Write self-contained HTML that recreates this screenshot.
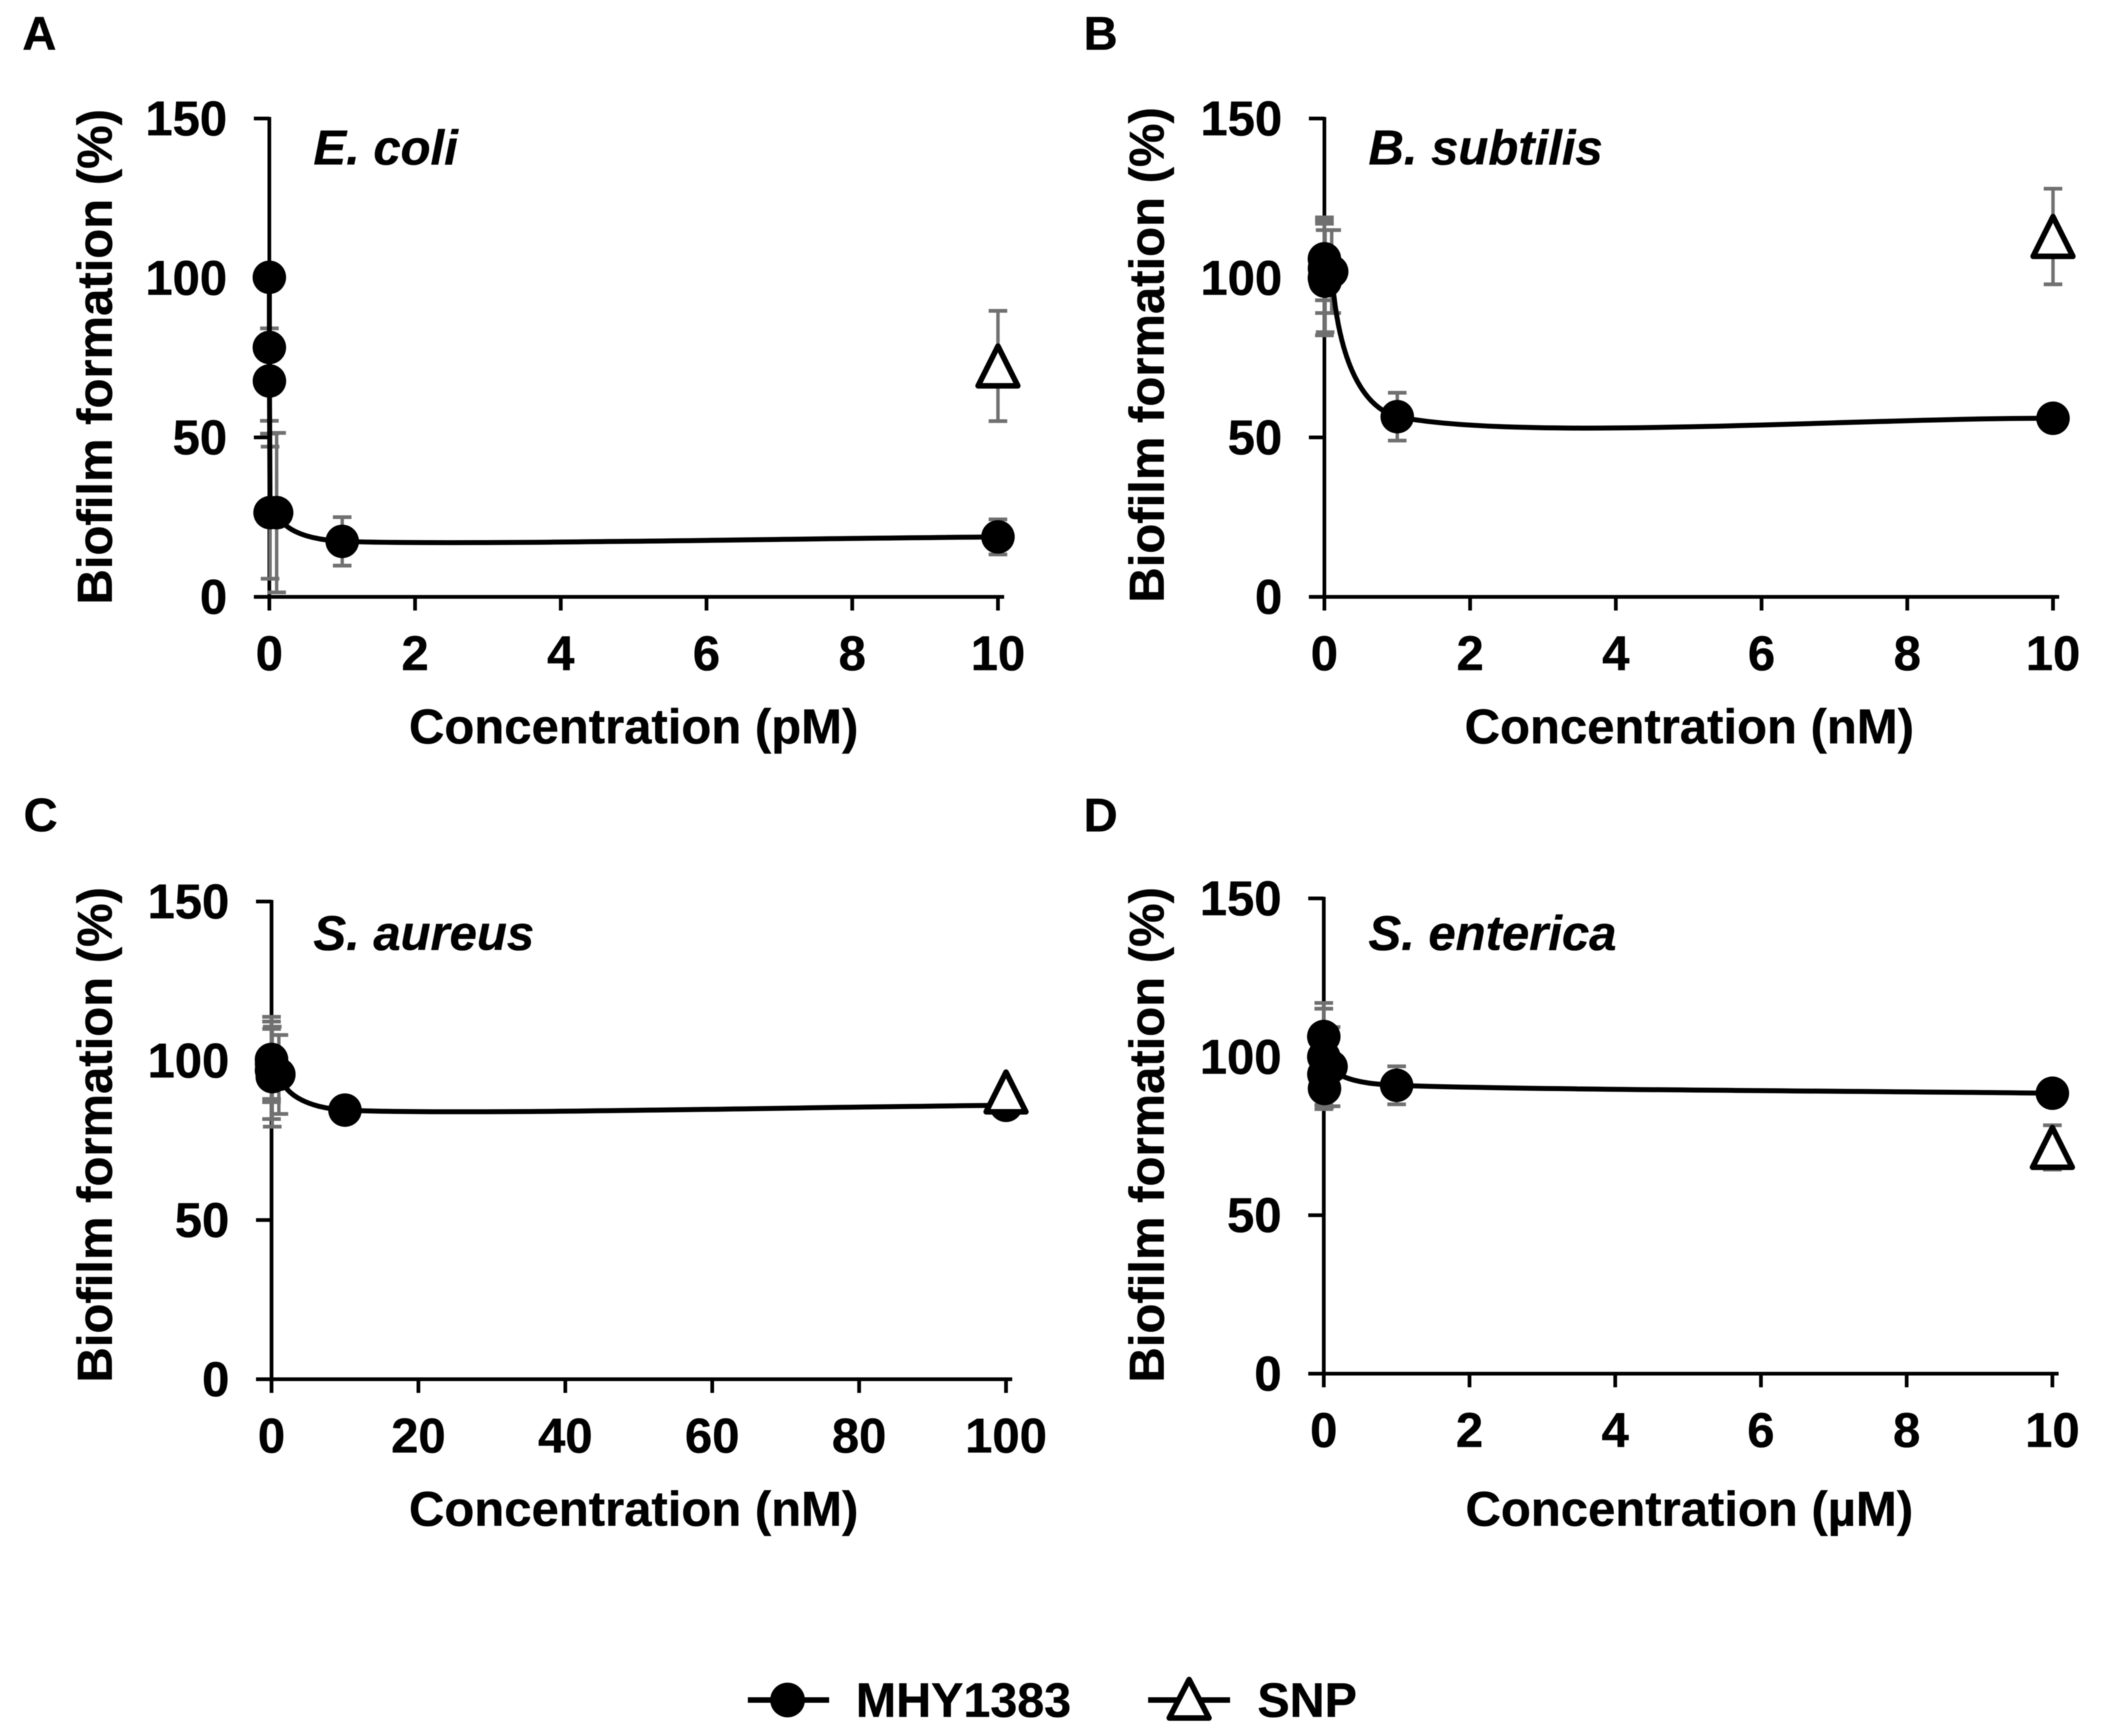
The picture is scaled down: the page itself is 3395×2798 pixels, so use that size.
<!DOCTYPE html>
<html lang="en">
<head>
<meta charset="utf-8">
<title>Biofilm formation vs concentration</title>
<style>
html,body{margin:0;padding:0;background:#fff;}
svg{display:block;filter:blur(0.8px);}
text{font-family:"Liberation Sans",Arial,sans-serif;font-weight:bold;fill:#000;stroke:#000;stroke-width:0.6px;}
</style>
</head>
<body>
<svg id="figure" xmlns="http://www.w3.org/2000/svg" width="3395" height="2798" viewBox="0 0 3395 2798">
  <rect x="0" y="0" width="3395" height="2798" fill="#fff"/>

  <text x="36" y="80" font-size="76">A</text>
  <text x="1746" y="80" font-size="76">B</text>
  <text x="38" y="1340" font-size="76">C</text>
  <text x="1746" y="1340" font-size="76">D</text>

  <text x="505" y="265" font-size="79" font-style="italic">E. coli</text>
  <text x="2205" y="265" font-size="79" font-style="italic">B. subtilis</text>
  <text x="505" y="1531" font-size="79" font-style="italic">S. aureus</text>
  <text x="2205" y="1531" font-size="79" font-style="italic">S. enterica</text>

  <text transform="translate(180 575) rotate(-90)" text-anchor="middle" font-size="79">Biofilm formation (%)</text>
  <text transform="translate(1875 572) rotate(-90)" text-anchor="middle" font-size="79">Biofilm formation (%)</text>
  <text transform="translate(180 1829) rotate(-90)" text-anchor="middle" font-size="79">Biofilm formation (%)</text>
  <text transform="translate(1875 1829) rotate(-90)" text-anchor="middle" font-size="79">Biofilm formation (%)</text>

  <text x="1021" y="1198" text-anchor="middle" font-size="79">Concentration (pM)</text>
  <text x="2722" y="1198" text-anchor="middle" font-size="79">Concentration (nM)</text>
  <text x="1021" y="2459" text-anchor="middle" font-size="79">Concentration (nM)</text>
  <text x="2722" y="2459" text-anchor="middle" font-size="79">Concentration (µM)</text>

  <g>
    <line x1="1205" y1="2740" x2="1336" y2="2740" stroke="#000" stroke-width="9"/>
    <circle cx="1269" cy="2740" r="28" fill="#000"/>
    <text x="1379" y="2767" font-size="78">MHY1383</text>
    <line x1="1850" y1="2740" x2="1982" y2="2740" stroke="#000" stroke-width="9"/>
    <path d="M1916 2707L1948 2769L1884 2769Z" fill="#fff" stroke="#000" stroke-width="9" stroke-linejoin="round"/>
    <text x="2026" y="2767" font-size="78">SNP</text>
  </g>
</svg>
<script>
// ---- Chart data ----
const yTicks = [0, 50, 100, 150];

const aXTicks = [0, 2, 4, 6, 8, 10];
const aConc = [0, 0.0001, 0.001, 0.01, 0.1, 1, 10];
const aMhy = [100.2, 78.2, 67.7, 26.4, 26.4, 17.4, 18.8];
const aMhyErr = [0, 23, 16.5, 20.7, 25, 7.6, 5.5];
const aSnpConc = [10];
const aSnp = [72.4];
const aSnpErr = [17.3];

const bXTicks = [0, 2, 4, 6, 8, 10];
const bConc = [0, 0.0001, 0.001, 0.01, 0.1, 1, 10];
const bMhy = [100, 106, 103, 99, 102, 56.5, 56];
const bMhyErr = [18, 13, 14, 16, 13, 7.5, 0];
const bSnpConc = [10];
const bSnp = [113];
const bSnpErr = [15];

const cXTicks = [0, 20, 40, 60, 80, 100];
const cConc = [0, 0.001, 0.01, 0.1, 1, 10, 100];
const cMhy = [100.4, 97, 99, 95, 95.7, 84.5, 86];
const cMhyErr = [13.4, 15.3, 11, 15.7, 12.4, 0, 0];
const cSnpConc = [100];
const cSnp = [90.2];
const cSnpErr = [0];

const dXTicks = [0, 2, 4, 6, 8, 10];
const dConc = [0, 0.0001, 0.001, 0.01, 0.1, 1, 10];
const dMhy = [106.4, 100, 94.5, 90, 96.9, 91, 88.5];
const dMhyErr = [10.6, 15.2, 11, 6, 12.5, 6, 0];
const dSnpConc = [10];
const dSnp = [71.4];
const dSnpErr = [7];

// ---- Rendering ----
const NS = 'http://www.w3.org/2000/svg';
const figure = document.getElementById('figure');

function make(parent, tag, name, attrs) {
  const el = document.createElementNS(NS, tag);
  
  
  for (const k in attrs) el.setAttribute(k, attrs[k]);
  parent.appendChild(el);
  return el;
}

function smoothPath(pts) {
  let d = 'M' + pts[0][0] + ' ' + pts[0][1];
  for (let i = 0; i < pts.length - 1; i++) {
    const p0 = pts[i - 1] || pts[i], p1 = pts[i], p2 = pts[i + 1], p3 = pts[i + 2] || p2;
    const dx = p2[0] - p1[0], dy = p2[1] - p1[1];
    let c1, c2;
    if (Math.abs(dy) > 0.2 * dx) {
      c1 = [p1[0] + 0.1 * dx, p1[1] + 0.65 * dy];
      c2 = [p2[0] - 0.5 * dx, p2[1] - 0.06 * dy];
    } else {
      c1 = [p1[0] + (p2[0] - p0[0]) * 0.17, p1[1] + (p2[1] - p0[1]) * 0.17];
      c2 = [p2[0] - (p3[0] - p1[0]) * 0.3, p2[1] - (p3[1] - p1[1]) * 0.3];
    }
    d += 'C' + c1[0] + ' ' + c1[1] + ' ' + c2[0] + ' ' + c2[1] + ' ' + p2[0] + ' ' + p2[1];
  }
  return d;
}

function errorBar(g, name, px, py, errPx) {
  if (!errPx) return;
  const grey = '#707070';
  make(g, 'line', name + '-stem', {x1: px, y1: py - errPx, x2: px, y2: py + errPx, stroke: grey, 'stroke-width': 5.5});
  make(g, 'line', name + '-cap-top', {x1: px - 15, y1: py - errPx, x2: px + 15, y2: py - errPx, stroke: grey, 'stroke-width': 6});
  make(g, 'line', name + '-cap-bottom', {x1: px - 15, y1: py + errPx, x2: px + 15, y2: py + errPx, stroke: grey, 'stroke-width': 6});
}

function renderPanel(id, frame, xTicks, conc, mhy, mhyErr, snpConc, snp, snpErr) {
  const xMax = xTicks[xTicks.length - 1];
  const yMax = yTicks[yTicks.length - 1];
  const xScale = v => frame.x0 + (v / xMax) * (frame.x1 - frame.x0);
  const yScale = v => frame.y0 - (v / yMax) * (frame.y0 - frame.yTop);
  const lenScale = v => (v / yMax) * (frame.y0 - frame.yTop);

  const g = make(figure, 'g', 'chart-panel-' + id, {});

  // axes
  make(g, 'line', 'y-axis-line-' + id, {x1: frame.x0, y1: frame.yTop - 2.5, x2: frame.x0, y2: frame.y0 + 22, stroke: '#000', 'stroke-width': 6});
  make(g, 'line', 'x-axis-line-' + id, {x1: frame.x0 - 25, y1: frame.y0, x2: frame.x1 + 10, y2: frame.y0, stroke: '#000', 'stroke-width': 6});

  yTicks.forEach(t => {
    const y = yScale(t);
    make(g, 'line', 'y-tick-' + id + '-' + t, {x1: frame.x0 - 25, y1: y, x2: frame.x0, y2: y, stroke: '#000', 'stroke-width': 6});
    const lab = make(g, 'text', 'y-tick-label-' + id + '-' + t, {x: frame.x0 - 68, y: y + 27, 'text-anchor': 'end', 'font-size': 79});
    lab.textContent = t;
  });
  xTicks.forEach(t => {
    const x = xScale(t);
    make(g, 'line', 'x-tick-' + id + '-' + t, {x1: x, y1: frame.y0, x2: x, y2: frame.y0 + 22, stroke: '#000', 'stroke-width': 6});
    const lab = make(g, 'text', 'x-tick-label-' + id + '-' + t, {x: x, y: frame.y0 + 118, 'text-anchor': 'middle', 'font-size': 79});
    lab.textContent = t;
  });

  // MHY1383 error bars, curve, points
  conc.forEach((c, i) => {
    errorBar(g, 'mhy1383-error-' + id + '-' + i, xScale(c), yScale(mhy[i]), lenScale(mhyErr[i]));
  });
  const pts = conc.map((c, i) => [xScale(c), yScale(mhy[i])]);
  make(g, 'path', 'mhy1383-curve-' + id, {d: smoothPath(pts), fill: 'none', stroke: '#000', 'stroke-width': 8});
  pts.forEach((p, i) => {
    make(g, 'circle', 'mhy1383-point-' + id + '-' + i, {cx: p[0], cy: p[1], r: 27, fill: '#000'});
  });

  // SNP error bars and triangles
  snpConc.forEach((c, i) => {
    const px = xScale(c), py = yScale(snp[i]);
    errorBar(g, 'snp-error-' + id + '-' + i, px, py, lenScale(snpErr[i]));
    make(g, 'path', 'snp-point-' + id + '-' + i, {
      d: 'M' + px + ' ' + (py - 32) + 'L' + (px + 32) + ' ' + (py + 32) + 'L' + (px - 32) + ' ' + (py + 32) + 'Z',
      fill: '#fff', stroke: '#000', 'stroke-width': 9, 'stroke-linejoin': 'round'
    });
  });
}

renderPanel('a', {x0: 434, x1: 1608, y0: 962, yTop: 191}, aXTicks, aConc, aMhy, aMhyErr, aSnpConc, aSnp, aSnpErr);
renderPanel('b', {x0: 2134, x1: 3308, y0: 962, yTop: 191}, bXTicks, bConc, bMhy, bMhyErr, bSnpConc, bSnp, bSnpErr);
renderPanel('c', {x0: 437.5, x1: 1621, y0: 2223, yTop: 1453}, cXTicks, cConc, cMhy, cMhyErr, cSnpConc, cSnp, cSnpErr);
renderPanel('d', {x0: 2133, x1: 3307, y0: 2214, yTop: 1448}, dXTicks, dConc, dMhy, dMhyErr, dSnpConc, dSnp, dSnpErr);
</script>
</body>
</html>
